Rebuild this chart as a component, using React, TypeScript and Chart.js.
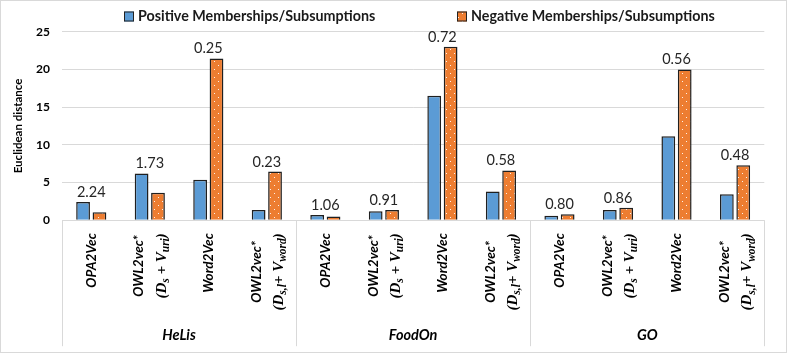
import React, { useEffect, useRef } from "react";
import { Chart, registerables } from "chart.js";

Chart.register(...registerables);

// ---------------- data ----------------
const groups = ["HeLis", "FoodOn", "GO"];
const methods = ["OPA2Vec", "OWL2vec*", "Word2Vec", "OWL2vec*"];
const methodVariants = ["", "uri", "", "word"];
const seriesNames = ["Positive Memberships/Subsumptions", "Negative Memberships/Subsumptions"];
const positiveValues = [2.4, 6.2, 5.35, 1.35, 0.7, 1.2, 16.5, 3.8, 0.6, 1.35, 11.15, 3.45];
const negativeValues = [1.05, 3.65, 21.45, 6.45, 0.5, 1.35, 23.0, 6.6, 0.8, 1.65, 20.0, 7.3];
const pairLabels = ["2.24", "1.73", "0.25", "0.23", "1.06", "0.91", "0.72", "0.58", "0.80", "0.86", "0.56", "0.48"];
const yMin = 0;
const yMax = 25;
const yStep = 5;
const yTitle = "Euclidean distance";

// math sub-labels: [text, "n" normal | "s" subscript]
const variantMath: Record<string, [string, string][]> = {
  uri: [["(", "n"], ["D", "n"], ["s", "s"], [" + ", "n"], ["V", "n"], ["uri", "s"], [")", "n"]],
  word: [["(", "n"], ["D", "n"], ["s,l", "s"], ["+ ", "n"], ["V", "n"], ["word", "s"], [")", "n"]],
};

const categories = groups.flatMap((g) => methods.map((m, i) => `${g} ${m}${methodVariants[i] ? " " + methodVariants[i] : ""}`));

const BLUE = "#5B9BD5";
const ORANGE = "#ED7D31";
const GRID = "#D9D9D9";
const SANS = "Lato, 'Open Sans', sans-serif";
const SERIF = "'Liberation Serif', 'DejaVu Serif', serif";

function makeDotPattern(): CanvasPattern | string {
  const c = document.createElement("canvas");
  c.width = 8;
  c.height = 8;
  const x = c.getContext("2d");
  if (!x) return ORANGE;
  x.fillStyle = ORANGE;
  x.fillRect(0, 0, 8, 8);
  x.fillStyle = "rgba(255,255,255,0.9)";
  x.fillRect(2, 1, 1, 1);
  x.fillRect(6, 5, 1, 1);
  const p = x.createPattern(c, "repeat");
  return p || ORANGE;
}

export default function App() {
  const ref = useRef<HTMLCanvasElement>(null);

  useEffect(() => {
    const canvas = ref.current;
    if (!canvas) return;
    const pattern = makeDotPattern();

    const framePlugin = {
      id: "frame",
      beforeDraw(chart: any) {
        const ctx = chart.ctx;
        ctx.save();
        ctx.fillStyle = "#fff";
        ctx.fillRect(0, 0, chart.width, chart.height);
        ctx.strokeStyle = GRID;
        ctx.lineWidth = 1;
        ctx.strokeRect(0.5, 0.5, 786, 352);
        ctx.restore();
      },
    };

    const legendPlugin = {
      id: "customLegend",
      afterDraw(chart: any) {
        const ctx = chart.ctx;
        const starts = [124, 457];
        const fills = [BLUE, pattern];
        ctx.save();
        seriesNames.forEach((name, i) => {
          const bx = starts[i];
          ctx.fillStyle = fills[i];
          ctx.fillRect(bx, 11.5, 10, 10);
          ctx.strokeStyle = "#222";
          ctx.lineWidth = 1;
          ctx.strokeRect(bx + 0.5, 12, 9, 9);
          ctx.fillStyle = "#1a1a1a";
          ctx.font = `bold 14.3px ${SANS}`;
          ctx.textAlign = "left";
          ctx.textBaseline = "middle";
          ctx.fillText(name, bx + 14, 16.5);
        });
        ctx.restore();
      },
    };

    const xAxisPlugin = {
      id: "xAxisDecor",
      afterDraw(chart: any) {
        const ctx = chart.ctx;
        const xs = chart.scales.x;
        const area = chart.chartArea;
        const n = categories.length;
        const cw = (xs.right - xs.left) / n;
        const bottom = area.bottom;
        ctx.save();
        // axis line & dividers
        ctx.strokeStyle = GRID;
        ctx.lineWidth = 1;
        ctx.beginPath();
        ctx.moveTo(xs.left, Math.round(bottom) + 0.5);
        ctx.lineTo(xs.right, Math.round(bottom) + 0.5);
        for (let g = 0; g <= groups.length; g++) {
          const x = Math.round(xs.left + cw * methods.length * g) + 0.5;
          ctx.moveTo(x, bottom);
          ctx.lineTo(x, bottom + 126);
        }
        ctx.stroke();

        // category labels
        const blockTop = bottom + 13;
        categories.forEach((_, idx) => {
          const mi = idx % methods.length;
          const cx = xs.getPixelForValue(idx);
          const variant = methodVariants[mi];
          const lines: { w: number; draw: (x0: number) => void }[] = [];
          const f1 = `italic bold 13.5px ${SANS}`;
          ctx.font = f1;
          const t1 = methods[mi];
          const w1 = ctx.measureText(t1).width;
          lines.push({
            w: w1,
            draw: () => {
              ctx.font = f1;
              ctx.fillText(t1, 0, 4.7);
            },
          });
          if (variant) {
            const segs = variantMath[variant];
            const fontN = `italic bold 15px ${SERIF}`;
            const fontS = `italic bold 11.5px ${SERIF}`;
            let w = 0;
            segs.forEach(([t, k]) => {
              ctx.font = k === "s" ? fontS : fontN;
              w += ctx.measureText(t).width;
            });
            lines.push({
              w,
              draw: () => {
                let px = 0;
                segs.forEach(([t, k]) => {
                  ctx.font = k === "s" ? fontS : fontN;
                  ctx.fillText(t, px, k === "s" ? 8.5 : 5);
                  px += ctx.measureText(t).width;
                });
              },
            });
          }
          const blockW = Math.max(...lines.map((l) => l.w));
          const spacing = 22;
          lines.forEach((l, li) => {
            const lx = cx + (li - (lines.length - 1) / 2) * spacing;
            const yStart = blockTop + (blockW + l.w) / 2;
            ctx.save();
            ctx.translate(lx, yStart);
            ctx.rotate(-Math.PI / 2);
            ctx.fillStyle = "#000";
            ctx.textAlign = "left";
            ctx.textBaseline = "alphabetic";
            l.draw(0);
            ctx.restore();
          });
        });

        // group labels
        ctx.fillStyle = "#000";
        ctx.font = `italic bold 14.5px ${SANS}`;
        ctx.textAlign = "center";
        ctx.textBaseline = "middle";
        groups.forEach((g, gi) => {
          const gx = xs.left + cw * methods.length * (gi + 0.5);
          ctx.fillText(g, gx, bottom + 115);
        });

        // value labels above pairs
        const ys = chart.scales.y;
        ctx.font = `14.5px ${SANS}`;
        ctx.fillStyle = "#262626";
        ctx.textBaseline = "alphabetic";
        pairLabels.forEach((lab, i) => {
          const top = Math.max(positiveValues[i], negativeValues[i]);
          const x = xs.getPixelForValue(i);
          const y = ys.getPixelForValue(top) - 5;
          ctx.fillText(lab, x, y);
        });
        ctx.restore();
      },
    };

    const chart = new Chart(canvas, {
      type: "bar",
      data: {
        labels: categories,
        datasets: [
          {
            label: seriesNames[0],
            data: positiveValues,
            backgroundColor: BLUE,
            borderColor: "#1f1f1f",
            borderWidth: 1.5,
            categoryPercentage: 0.56,
            barPercentage: 0.84,
          },
          {
            label: seriesNames[1],
            data: negativeValues,
            backgroundColor: pattern as any,
            borderColor: "#1f1f1f",
            borderWidth: 1.5,
            categoryPercentage: 0.56,
            barPercentage: 0.84,
          },
        ],
      },
      options: {
        responsive: false,
        animation: false,
        devicePixelRatio: 1,
        layout: { padding: { top: 31.7, right: 24.7, bottom: 0, left: 0 } },
        plugins: {
          legend: { display: false },
          tooltip: { enabled: false },
        },
        scales: {
          x: {
            ticks: { display: false },
            grid: { display: false },
            border: { display: false },
            afterFit: (s: any) => {
              s.height = 134.8;
            },
          },
          y: {
            min: yMin,
            max: yMax,
            ticks: {
              stepSize: yStep,
              padding: 12,
              color: "#000",
              font: { family: SANS, size: 12, weight: "bold" },
            },
            grid: { color: GRID, drawTicks: false, lineWidth: 1 },
            border: { display: false },
            title: {
              display: true,
              text: yTitle,
              color: "#000",
              font: { family: SANS, size: 11.5, weight: "bold" },
              padding: { top: 11, bottom: 0 },
            },
            afterFit: (s: any) => {
              s.width = 62;
            },
          },
        },
      },
      plugins: [framePlugin, legendPlugin, xAxisPlugin],
    });

    return () => chart.destroy();
  }, []);

  return (
    <div style={{ position: "absolute", left: 0, top: 0, width: 789, height: 355 }}>
      <canvas ref={ref} width={789} height={355} style={{ display: "block", width: 789, height: 355 }} />
    </div>
  );
}
